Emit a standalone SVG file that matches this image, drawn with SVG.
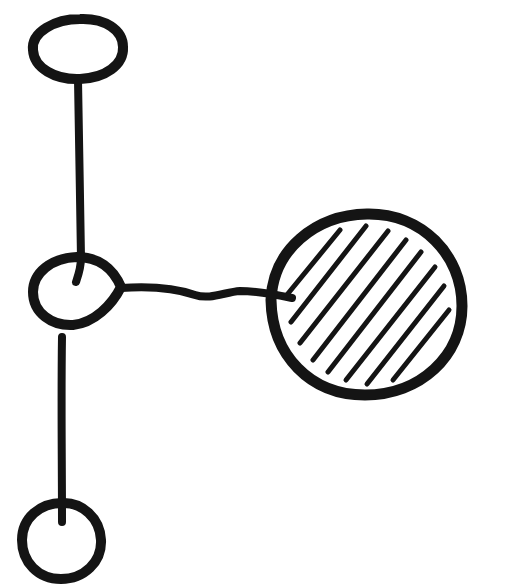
<svg xmlns="http://www.w3.org/2000/svg" width="513" height="587" viewBox="0 0 513 587">
<style>
.ink{fill:none;stroke:#141414;stroke-linecap:round;stroke-linejoin:round}
.node{stroke-width:10}
.edge{stroke-width:8}
.hatch{stroke-width:5}
</style>
<rect width="513" height="587" fill="#fff"/>
<g id="connectors" class="ink edge">
<path d="M78,80 C79,130 80,200 81,258 C81,268 78,276 76,282"/>
<path d="M62,337 C61,400 62,460 62,522"/>
<path d="M121,288 C150,286 175,288 195,295 C210,300 225,292 240,291 C255,291 268,293 292,298"/>
</g>
<g id="node-top" class="ink node">
<path d="M33,50 C31,32 55,19 80,19 C105,18 123,30 123,47 C124,65 105,78 80,79 C55,80 34,68 33,50 Z"/>
</g>
<g id="node-middle" class="ink node">
<path d="M121,287 C113,268 98,257 77,257 C51,258 33,273 33,292 C33,313 52,326 73,325 C94,323 112,305 121,287 Z"/>
</g>
<g id="node-bottom" class="ink node">
<path d="M62,503 C82,502 100,518 101,540 C102,562 84,579 61,579 C38,579 22,562 22,540 C22,518 40,503 62,503 Z"/>
</g>
<g id="node-hatched" class="ink">
<path class="node" style="stroke-width:11" d="M271,300 C273,250 315,215 367,214 C422,213 462,255 462,306 C462,356 420,395 365,395 C310,395 272,355 271,300 Z"/>
<g class="hatch">
<line x1="286" y1="296" x2="340" y2="230"/>
<line x1="291" y1="322" x2="366" y2="226"/>
<line x1="300" y1="343" x2="388" y2="231"/>
<line x1="313" y1="360" x2="406" y2="240"/>
<line x1="328" y1="372" x2="421" y2="252"/>
<line x1="346" y1="380" x2="435" y2="267"/>
<line x1="367" y1="384" x2="444" y2="286"/>
<line x1="393" y1="380" x2="449" y2="310"/>
</g>
</g>
</svg>
